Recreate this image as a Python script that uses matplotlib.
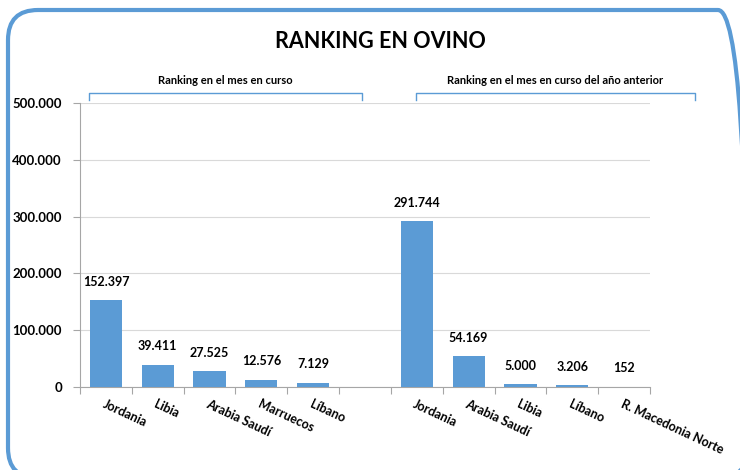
import matplotlib
matplotlib.use("Agg")
import matplotlib.pyplot as plt
from matplotlib.patches import FancyBboxPatch
from matplotlib.lines import Line2D

categories_cur = ["Jordania", "Libia", "Arabia Saudí", "Marruecos", "Líbano"]
values_cur = [152397, 39411, 27525, 12576, 7129]
categories_prev = ["Jordania", "Arabia Saudí", "Libia", "Líbano", "R. Macedonia Norte"]
values_prev = [291744, 54169, 5000, 3206, 152]
yticks = [0, 100000, 200000, 300000, 400000, 500000]
title = "RANKING EN OVINO"
group_labels = ["Ranking en el mes en curso", "Ranking en el mes en curso del año anterior"]

plt.rcParams['font.family'] = ['Lato', 'DejaVu Sans']

def fmt(v):
    return f"{v:,}".replace(",", ".")

fig = plt.figure(figsize=(7.4, 4.7), dpi=100)
fig.patch.set_facecolor("white")

# rounded frame (in inches)
frame = FancyBboxPatch((0.08, -0.08), 7.40, 4.68,
                       boxstyle="round,pad=0,rounding_size=0.3",
                       transform=fig.dpi_scale_trans, fill=False,
                       edgecolor="#5B9BD5", linewidth=3, clip_on=False)
fig.patches.append(frame)

ax = fig.add_axes([80/740, 1 - 387/470, 570/740, (387 - 103)/470])

labels = categories_cur + [""] + categories_prev
values = values_cur + [None] + values_prev
pos = list(range(len(labels)))
bar_x = [p for p, v in zip(pos, values) if v is not None]
bar_v = [v for v in values if v is not None]
ax.bar(bar_x, bar_v, width=0.62, color="#5B9BD5", zorder=3)

for x, v in zip(bar_x, bar_v):
    ax.annotate(fmt(v), (x, v), xytext=(0, 9), textcoords="offset points",
                ha="center", va="bottom", fontsize=9, fontweight="bold")

ax.set_xlim(-0.5, len(labels) - 0.5)
ax.set_ylim(0, 500000)
ax.set_yticks(yticks)
ax.set_yticklabels([fmt(t) for t in yticks], fontsize=9.5, fontweight="bold")
ax.grid(axis="y", color="#D9D9D9", linewidth=0.8, zorder=0)
for s in ["top", "right"]:
    ax.spines[s].set_visible(False)
ax.spines["left"].set_color("#A6A6A6")
ax.spines["bottom"].set_color("#A6A6A6")
ax.tick_params(axis="y", length=5, color="#A6A6A6", pad=8)
ax.set_xticks([p - 0.5 for p in pos] + [len(labels) - 0.5])
ax.set_xticklabels([])
ax.tick_params(axis="x", length=5, color="#A6A6A6", direction="out")

for p, lab in zip(pos, labels):
    if lab:
        ax.annotate(lab, (p, 0), xytext=(-2, -12), textcoords="offset points",
                    rotation=-25, rotation_mode="anchor", ha="left", va="center",
                    fontsize=9, fontweight="bold")

fig.text(380/740, 1 - 42/470, title, ha="center", va="center",
         fontsize=15.5, fontweight="bold")

# brackets
def bracket(x0, x1, ytop, ybot, label):
    fx0, fx1 = x0 / 740, x1 / 740
    fyt, fyb = 1 - ytop / 470, 1 - ybot / 470
    fig.lines.append(Line2D([fx0, fx0, fx1, fx1], [fyb, fyt, fyt, fyb],
                            transform=fig.transFigure, color="#5B9BD5", linewidth=1))
    fig.text((fx0 + fx1) / 2, 1 - 81 / 470, label, ha="center", va="center",
             fontsize=8, fontweight="bold")

bracket(89, 362, 93, 100, group_labels[0])
bracket(416, 695, 93, 100, group_labels[1])

fig.savefig("out.png", dpi=100)
